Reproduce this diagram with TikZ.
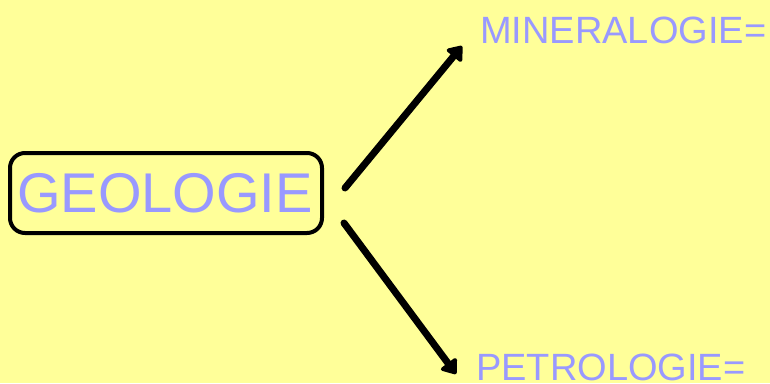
\documentclass[tikz,border=0pt]{standalone}
\usepackage{fontspec}
\setmainfont{Liberation Sans}
\usetikzlibrary{arrows.meta}
\definecolor{bgyellow}{HTML}{FFFF99}
\definecolor{txtblue}{HTML}{9999FF}
\tikzset{
  boxstyle/.style={draw=black, line width=4pt, rounded corners=15pt, minimum width=312pt, minimum height=80pt, inner sep=0pt},
  bigtext/.style={text=txtblue, inner sep=0pt, anchor=base west, font=\fontsize{56}{60}\selectfont},
  smalltext/.style={text=txtblue, inner sep=0pt, anchor=base west, font=\fontsize{38}{42}\selectfont},
  arrowline/.style={line width=7pt, line cap=round, -{Triangle[length=15pt,width=22pt,round]}}
}
\begin{document}
\begin{tikzpicture}[x=1pt,y=-1pt]
  \fill[bgyellow] (0,0) rectangle (770,383);
  \useasboundingbox (0,0) rectangle (770,383);
  \node[boxstyle] (geo) at (166,193) {};
  \node[bigtext] (geotext) at (17,212) {GEOLOGIE};
  \node[smalltext] (mineral) at (480,43) {MINERALOGIE=};
  \node[smalltext] (petro) at (476,380) {PETROLOGIE=};
  \coordinate (s1) at (345,188);
  \coordinate (e1) at (462,46);
  \coordinate (s2) at (344,223);
  \coordinate (e2) at (456,374);
  \draw[arrowline] (s1) -- (e1);
  \draw[arrowline] (s2) -- (e2);
\end{tikzpicture}
\end{document}
